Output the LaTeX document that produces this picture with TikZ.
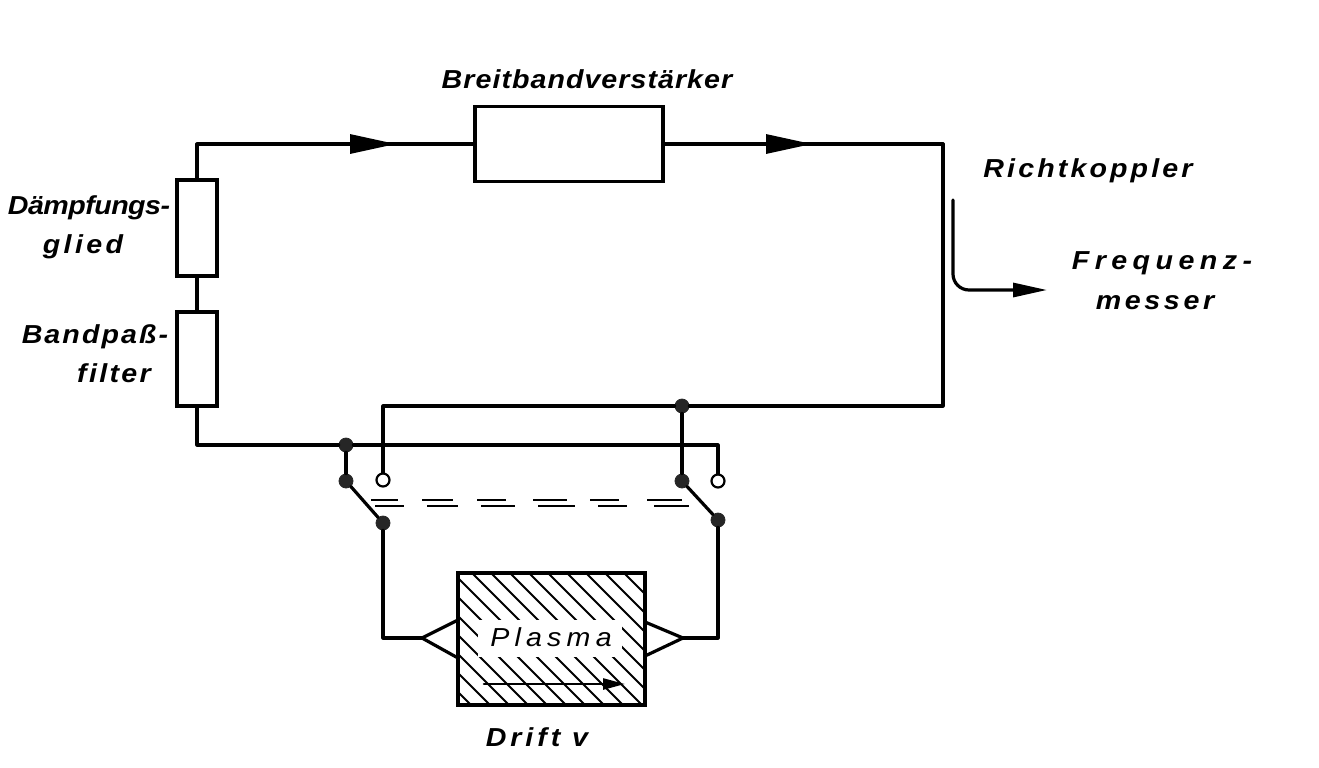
\documentclass[tikz,border=0pt]{standalone}
\usepackage{fontspec}
\setmainfont{Liberation Sans}
\usetikzlibrary{arrows.meta}
\tikzset{
    wire/.style={line width=1.6pt, line cap=round, line join=round},
    flowarrow/.style={wire, -{Triangle[length=23pt, width=9.5pt]}},
    block/.style={draw, line width=1.6pt, inner sep=0pt},
    dot/.style={circle, fill=black!85, draw=black!85, inner sep=0pt, minimum size=7pt},
    opendot/.style={circle, fill=white, draw, line width=1.1pt, inner sep=0pt, minimum size=6.5pt},
    tag/.style={font=\fontsize{13}{15}\selectfont\bfseries\itshape\addfontfeature{FakeStretch=1.1,LetterSpace=#1}, inner sep=0pt},
}
\begin{document}
\begin{tikzpicture}[x=0.5pt, y=-0.5pt]
    \useasboundingbox (0,0) rectangle (1319,767);
    % Plasma
    \begin{scope}
        \clip (458,573) rectangle (645,705);
        \foreach \i in {0,...,19} {
            \draw[line width=1pt] ({320+19*\i},573) -- ++(150,150);
        }
    \end{scope}
    \node[fill=white, minimum width=72pt, minimum height=18.5pt, inner sep=0pt] at (550,638.5) {};
    \node[block, minimum width=93.5pt, minimum height=66pt] (plasma) at (551.5,639) {};
    \node[font=\fontsize{13}{15}\selectfont\itshape\addfontfeature{FakeStretch=1.1,LetterSpace=20}, inner sep=0pt] at (551,637) {Plasma};
    \coordinate (driftA) at (484,684);
    \coordinate (driftB) at (625,684);
    \draw[wire, line width=1.3pt, -{Triangle[length=11pt, width=5.5pt]}] (driftA) -- (driftB);
    \node[tag=15] at (537,737) {Drift v};
    % Zweige
    \node[block, minimum width=94pt, minimum height=37.5pt] (verst) at (569,144) {};
    \node[block, minimum width=20pt, minimum height=48pt] (daempf) at (197,228) {};
    \node[block, minimum width=20pt, minimum height=47pt] (bandpass) at (197,359) {};
    \node[dot] (jBand) at (346,445) {};
    \node[dot] (jLoop) at (682,406) {};
    \node[dot] (sLeftA) at (346,481) {};
    \node[dot] (sLeftB) at (383,523) {};
    \node[opendot] (sLeftC) at (383,480) {};
    \node[dot] (sRightA) at (682,481) {};
    \node[dot] (sRightB) at (718,520) {};
    \node[opendot] (sRightC) at (718,481) {};
    \coordinate (corner) at (943,144);
    \coordinate (tailA) at (340,144);
    \coordinate (tipA) at (396,144);
    \coordinate (tailB) at (750,144);
    \coordinate (tipB) at (812,144);
    \coordinate (triLeft) at (422,638);
    \coordinate (triRight) at (683,638);
    \draw[wire] (daempf.north) |- (verst.west);
    \draw[flowarrow] (tailA) -- (tipA);
    \draw[wire] (verst.east) -- (corner);
    \draw[flowarrow] (tailB) -- (tipB);
    \draw[wire] (corner) |- (jLoop);
    \draw[wire] (jLoop) -| (sLeftC);
    \draw[wire] (jLoop) -- (sRightA);
    \draw[wire] (daempf.south) -- (bandpass.north);
    \draw[wire] (bandpass.south) |- (jBand);
    \draw[wire] (jBand) -| (sRightC);
    \draw[wire] (jBand) -- (sLeftA);
    \draw[wire] (sLeftA) -- (sLeftB);
    \draw[wire] (sRightA) -- (sRightB);
    \draw[wire] (sLeftB) |- (triLeft);
    \draw[wire] (sRightB) |- (triRight);
    \draw[wire] (458,620) -- (triLeft) -- (458,658);
    \draw[wire] (645,622) -- (triRight) -- (645,656);
    % Kopplung
    \foreach \a/\b in {371/398,422/453,477/506,533/567,590/619,647/682} {
        \draw[line width=1.2pt] (\a,500) -- (\b,500);
    }
    \foreach \a/\b in {375/404,427/458,481/515,538/575,598/627,654/689} {
        \draw[line width=1.2pt] (\a,506) -- (\b,506);
    }
    % Richtkoppler
    \coordinate (kopplerA) at (953,200);
    \coordinate (kopplerB) at (1047,290);
    \draw[wire, rounded corners=8pt, -{Triangle[length=17pt, width=7pt]}] (kopplerA) |- (kopplerB);
    \node[tag=4] at (587,79) {Breitbandverstärker};
    \node[tag=12] at (1088,171) {Richtkoppler};
    \node[tag=21] at (1162,263) {Frequenz-};
    \node[tag=14] at (1155,303) {messer};
    \node[tag=-2] at (89,208) {Dämpfungs-};
    \node[tag=13] at (83,247) {glied};
    \node[tag=8] at (95,337) {Bandpaß-};
    \node[tag=9] at (114,373) {filter};
\end{tikzpicture}
\end{document}
